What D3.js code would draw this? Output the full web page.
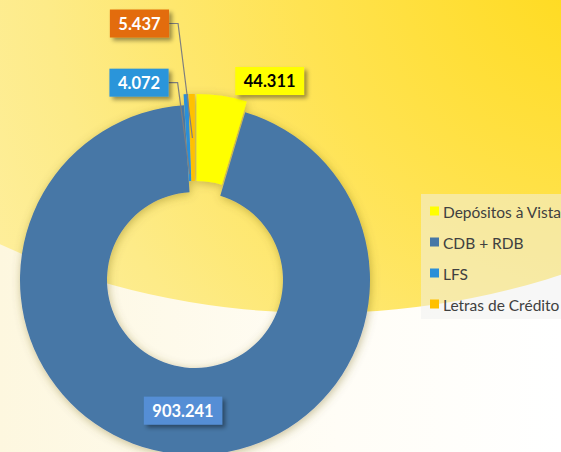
<!DOCTYPE html>
<html>
<head>
<meta charset="utf-8">
<script src="https://cdn.jsdelivr.net/npm/d3@7"></script>
<style>
  html, body { margin: 0; padding: 0; background: #fff; }
  svg { display: block; }
</style>
</head>
<body>
<svg id="chart" width="561" height="452"></svg>
<script>
// Data
const categories = ["Depósitos à Vista", "CDB + RDB", "LFS", "Letras de Crédito"];
const values = [44311, 903241, 4072, 5437];
const valueLabels = ["44.311", "903.241", "4.072", "5.437"];
const sliceColors = ["#FFFF00", "#4677A6", "#2B8FD8", "#FFC000"];
const labelColors = ["#FFFF00", "#558ED5", "#2B95DA", "#E36C0A"];
const labelTextColors = ["#000000", "#ffffff", "#ffffff", "#ffffff"];
const exploded = [true, false, true, true];

const width = 561, height = 452;
const cx = 195, cy = 280;
const outerR = 175, innerR = 88, explode = 11;

const svg = d3.select("#chart");
const defs = svg.append("defs");

// Background gradients
const yellowGrad = defs.append("radialGradient")
  .attr("id", "yellowGrad")
  .attr("gradientUnits", "userSpaceOnUse")
  .attr("cx", 620).attr("cy", -60).attr("r", 720);
yellowGrad.append("stop").attr("offset", "0").attr("stop-color", "#FFD914");
yellowGrad.append("stop").attr("offset", "0.45").attr("stop-color", "#FFE352");
yellowGrad.append("stop").attr("offset", "0.8").attr("stop-color", "#FDEB88");
yellowGrad.append("stop").attr("offset", "1").attr("stop-color", "#FEEF9E");

const creamGrad = defs.append("linearGradient")
  .attr("id", "creamGrad")
  .attr("x1", "0").attr("y1", "0").attr("x2", "1").attr("y2", "0");
creamGrad.append("stop").attr("offset", "0").attr("stop-color", "#FDF7DF");
creamGrad.append("stop").attr("offset", "0.6").attr("stop-color", "#FFFDF6");
creamGrad.append("stop").attr("offset", "1").attr("stop-color", "#FFFFFF");

// Shadows
const ringShadow = defs.append("filter").attr("id", "ringShadow")
  .attr("x", "-20%").attr("y", "-20%").attr("width", "140%").attr("height", "140%");
ringShadow.append("feDropShadow")
  .attr("dx", 1).attr("dy", 2).attr("stdDeviation", 5)
  .attr("flood-color", "#6b5a10").attr("flood-opacity", 0.38);

const boxShadow = defs.append("filter").attr("id", "boxShadow")
  .attr("x", "-20%").attr("y", "-30%").attr("width", "150%").attr("height", "170%");
boxShadow.append("feDropShadow")
  .attr("dx", 3).attr("dy", 3).attr("stdDeviation", 2)
  .attr("flood-color", "#000").attr("flood-opacity", 0.4);

svg.append("rect")
  .attr("width", width).attr("height", height)
  .attr("fill", "url(#creamGrad)");

svg.append("circle")
  .attr("cx", 320).attr("cy", -467).attr("r", 780)
  .attr("fill", "url(#yellowGrad)");

// Pie layout
const pie = d3.pie().sort(null).value(d => d)(values);
const arc = d3.arc().innerRadius(innerR).outerRadius(outerR);

function offset(d, i) {
  if (!exploded[i]) return [0, 0];
  const a = (d.startAngle + d.endAngle) / 2;
  return [Math.sin(a) * explode, -Math.cos(a) * explode];
}

const ring = svg.append("g")
  .attr("transform", `translate(${cx},${cy})`)
  .attr("filter", "url(#ringShadow)");

ring.selectAll("path")
  .data(pie)
  .enter()
  .append("path")
  .attr("d", arc)
  .attr("transform", (d, i) => `translate(${offset(d, i)})`)
  .attr("fill", (d, i) => sliceColors[i]);

// Data labels (box centre relative to slice centroid)
const labelPos = [
  { dx: 54, dy: -58 },
  { dx: 3, dy: 0 },
  { dx: -49, dy: -55, leader: [177, 95] },
  { dx: -53, dy: -114, leader: [177, 131] }
];

const labels = svg.append("g")
  .attr("transform", `translate(${cx},${cy})`);

pie.forEach((d, i) => {
  const [ox, oy] = offset(d, i);
  const c = arc.centroid(d);
  const lx = c[0] + ox + labelPos[i].dx;
  const ly = c[1] + oy + labelPos[i].dy;

  const g = labels.append("g");
  const t = g.append("text")
    .attr("x", lx).attr("y", ly)
    .attr("text-anchor", "middle")
    .attr("dominant-baseline", "central")
    .style("font-family", "Lato, 'Open Sans', sans-serif")
    .style("font-weight", "bold")
    .style("font-size", "16.5px")
    .attr("fill", labelTextColors[i])
    .text(valueLabels[i]);
  const w = t.node().getComputedTextLength() + 17;
  const h = 28;

  if (labelPos[i].leader) {
    // leader line from box edge down to slice
    const a = (d.startAngle + d.endAngle) / 2;
    const r = labelPos[i].leader[1];
    const ex = Math.sin(a) * r + ox, ey = -Math.cos(a) * r + oy;
    const bx = lx + w / 2;
    g.insert("path", "text")
      .attr("d", `M${bx},${ly}H${bx + 9}L${ex},${ey}`)
      .attr("fill", "none")
      .attr("stroke", "#7f7f7f")
      .attr("stroke-width", 1.2);
  }

  g.insert("rect", "text")
    .attr("x", lx - w / 2).attr("y", ly - h / 2)
    .attr("width", w).attr("height", h)
    .attr("fill", labelColors[i])
    .attr("filter", "url(#boxShadow)");
});

// Legend
const legend = svg.append("g");
legend.append("rect")
  .attr("x", 421).attr("y", 194)
  .attr("width", 150).attr("height", 125)
  .attr("fill", "#F0F0F0").attr("fill-opacity", 0.5);

const item = legend.selectAll(".item")
  .data(categories)
  .enter()
  .append("g")
  .attr("class", "item")
  .attr("transform", (d, i) => `translate(430,${211 + i * 31})`);

item.append("rect")
  .attr("x", 0).attr("y", -4.5)
  .attr("width", 9).attr("height", 9)
  .attr("fill", (d, i) => sliceColors[i]);

item.append("text")
  .attr("x", 13).attr("y", 0.5)
  .attr("dominant-baseline", "central")
  .style("font-family", "Lato, 'Open Sans', sans-serif")
  .style("font-size", "15.5px")
  .attr("fill", "#404040")
  .text(d => d);
</script>
</body>
</html>
